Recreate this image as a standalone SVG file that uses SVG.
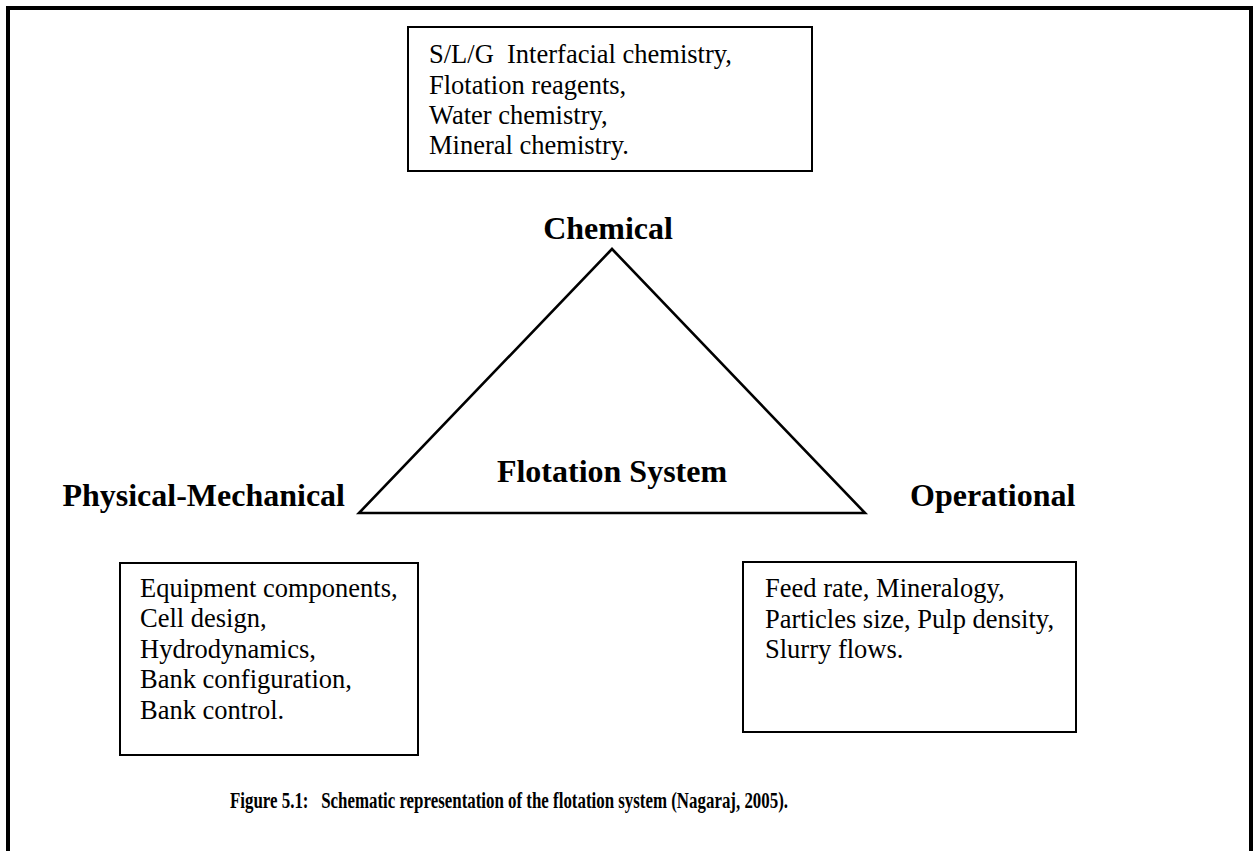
<svg xmlns="http://www.w3.org/2000/svg" width="1253" height="851" viewBox="0 0 1253 851">
  <style>
    .frame { fill: none; stroke: #000; stroke-width: 4; }
    .box { fill: #fff; stroke: #000; stroke-width: 2; }
    .tri { fill: none; stroke: #000; stroke-width: 2.6; stroke-linejoin: miter; }
    .body { font-family: "Liberation Serif", "Times New Roman", serif; font-size: 26.5px; fill: #000; }
    .label { font-family: "Liberation Serif", "Times New Roman", serif; font-size: 32px; font-weight: bold; fill: #000; }
    .caption { font-family: "Liberation Serif", "Times New Roman", serif; font-size: 24px; font-weight: bold; fill: #000; }
  </style>
  <rect width="1253" height="851" fill="#fff"/>

  <!-- open page frame: top edge and both sides -->
  <path class="frame" d="M8,851 V8 H1251 V851"/>

  <g id="chemical-box">
    <rect class="box" x="408" y="27" width="404" height="144"/>
    <text class="body" x="429" y="63" xml:space="preserve">S/L/G  Interfacial chemistry,</text>
    <text class="body" x="429" y="94">Flotation reagents,</text>
    <text class="body" x="429" y="124">Water chemistry,</text>
    <text class="body" x="429" y="154">Mineral chemistry.</text>
  </g>

  <g id="flotation-system">
    <polygon class="tri" points="612,249 359,513 865,513"/>
    <text class="label" x="612" y="482" text-anchor="middle">Flotation System</text>
  </g>

  <g id="chemical-label">
    <text class="label" x="608" y="239" text-anchor="middle">Chemical</text>
  </g>

  <g id="physical-label">
    <text class="label" x="345" y="506" text-anchor="end">Physical-Mechanical</text>
  </g>

  <g id="operational-label">
    <text class="label" x="910" y="506">Operational</text>
  </g>

  <g id="physical-box">
    <rect class="box" x="120" y="563" width="298" height="192"/>
    <text class="body" x="140" y="597">Equipment components,</text>
    <text class="body" x="140" y="627">Cell design,</text>
    <text class="body" x="140" y="658">Hydrodynamics,</text>
    <text class="body" x="140" y="688">Bank configuration,</text>
    <text class="body" x="140" y="719">Bank control.</text>
  </g>

  <g id="operational-box">
    <rect class="box" x="743" y="562" width="333" height="170"/>
    <text class="body" x="765" y="597">Feed rate, Mineralogy,</text>
    <text class="body" x="765" y="628">Particles size, Pulp density,</text>
    <text class="body" x="765" y="658">Slurry flows.</text>
  </g>

  <g id="connectors"></g>

  <text class="caption" x="509" y="808" text-anchor="middle" textLength="558" lengthAdjust="spacingAndGlyphs" xml:space="preserve">Figure 5.1:   Schematic representation of the flotation system (Nagaraj, 2005).</text>
</svg>
